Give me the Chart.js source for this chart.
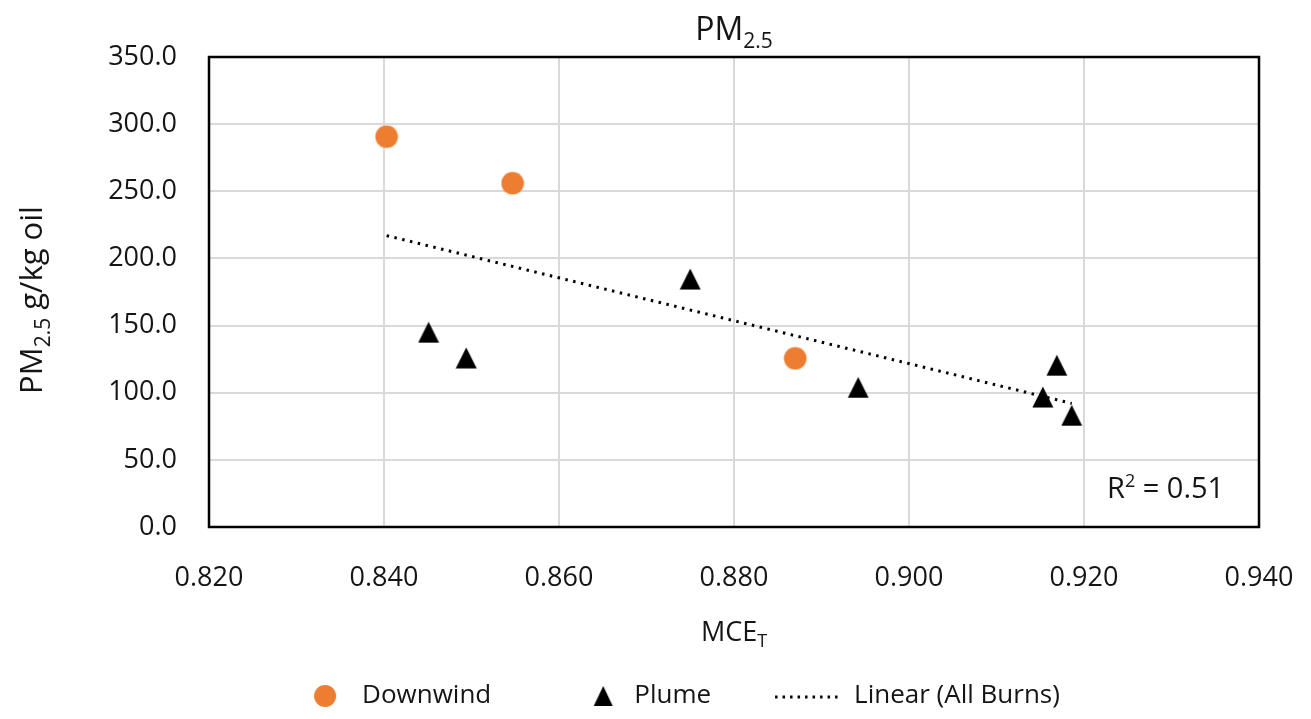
<!DOCTYPE html>
<html>
<head>
<meta charset="utf-8">
<title>PM2.5 vs MCE</title>
<script src="https://cdn.jsdelivr.net/npm/chart.js@4.4.0/dist/chart.umd.min.js"></script>
<style>
    html, body { margin: 0; padding: 0; background: #fff; }
    #wrap { width: 1311px; height: 719px; }
</style>
</head>
<body>
<div id="wrap"><canvas id="pmChart" width="1311" height="719"></canvas></div>
<script>
// Downwind samples (orange circles)
const downwindMce = [0.8403, 0.8547, 0.8870];
const downwindPm = [290.7, 256.0, 125.6];

// Plume samples (black triangles)
const plumeMce = [0.8451, 0.8494, 0.8750, 0.8942, 0.9153, 0.9169, 0.9186];
const plumePm = [145.0, 125.9, 184.6, 103.9, 96.8, 120.4, 83.1];

// Linear trend (All Burns), end points
const trendMce = [0.8403, 0.9186];
const trendPm = [217.0, 92.0];

const seriesNames = ['Downwind', 'Plume', 'Linear (All Burns)'];
const rSquaredText = ' = 0.51';

const FONT = "'Open Sans', sans-serif";
const TEXT = '#151515';

function toPoints(xs, ys) {
    return xs.map((x, i) => ({ x: x, y: ys[i] }));
}

function makeIcon(w, h, draw) {
    const c = document.createElement('canvas');
    c.width = w;
    c.height = h;
    draw(c.getContext('2d'));
    return c;
}

function drawCircle(ctx, cx, cy, r) {
    ctx.fillStyle = '#ED7D31';
    ctx.beginPath();
    ctx.arc(cx, cy, r, 0, Math.PI * 2);
    ctx.fill();
}

function drawTriangle(ctx, cx, cy, w, h) {
    ctx.fillStyle = '#000';
    ctx.beginPath();
    ctx.moveTo(cx, cy - h / 2);
    ctx.lineTo(cx + w / 2, cy + h / 2);
    ctx.lineTo(cx - w / 2, cy + h / 2);
    ctx.closePath();
    ctx.fill();
}

// markers on the plot
const circleMarker = makeIcon(24, 24, ctx => drawCircle(ctx, 12, 12, 11.3));
const triangleMarker = makeIcon(22, 22, ctx => drawTriangle(ctx, 11, 11, 21, 21));

// legend icons, all the same width so the text lines up after them
const LEG_W = 90, LEG_H = 26;
const legendIcons = [
    makeIcon(LEG_W, LEG_H, ctx => drawCircle(ctx, 66, 13, 11)),
    makeIcon(LEG_W, LEG_H, ctx => drawTriangle(ctx, 72, 13, 19, 20)),
    makeIcon(LEG_W, LEG_H, ctx => {
        ctx.strokeStyle = '#000';
        ctx.lineWidth = 3;
        ctx.setLineDash([2.5, 5]);
        ctx.beginPath();
        ctx.moveTo(24, 14);
        ctx.lineTo(89, 14);
        ctx.stroke();
    })
];

// draws a run of [text, size, baselineShift] pieces starting at x
function drawRuns(ctx, runs, x, y) {
    runs.forEach(r => {
        ctx.font = r[1] + 'px ' + FONT;
        ctx.fillText(r[0], x, y + r[2]);
        x += ctx.measureText(r[0]).width;
    });
}

function runsWidth(ctx, runs) {
    let w = 0;
    runs.forEach(r => {
        ctx.font = r[1] + 'px ' + FONT;
        w += ctx.measureText(r[0]).width;
    });
    return w;
}

const decorPlugin = {
    id: 'decor',
    beforeDatasetsDraw(chart) {
        const { ctx, chartArea: a } = chart;
        ctx.save();
        ctx.strokeStyle = '#000';
        ctx.lineWidth = 2.5;
        ctx.strokeRect(a.left, a.top, a.right - a.left, a.bottom - a.top);
        ctx.restore();
    },
    afterDraw(chart) {
        const { ctx, chartArea: a } = chart;
        const midX = (a.left + a.right) / 2;
        ctx.save();
        ctx.fillStyle = TEXT;
        ctx.textBaseline = 'alphabetic';
        ctx.textAlign = 'left';

        // title
        const title = [['PM', 32, 0], ['2.5', 21, 8]];
        drawRuns(ctx, title, midX - runsWidth(ctx, title) / 2, 40);

        // x axis title
        const xTitle = [['MCE', 27, 0], ['T', 18, 6]];
        drawRuns(ctx, xTitle, midX - runsWidth(ctx, xTitle) / 2, 641);

        // y axis title
        const yTitle = [['PM', 31, 0], ['2.5', 21, 8], [' g/kg oil', 31, 0]];
        ctx.translate(42, (a.top + a.bottom) / 2 + 8);
        ctx.rotate(-Math.PI / 2);
        drawRuns(ctx, yTitle, -runsWidth(ctx, yTitle) / 2, 0);
        ctx.setTransform(1, 0, 0, 1, 0, 0);

        // R squared
        drawRuns(ctx, [['R', 29, 0], ['2', 18, -11], [rSquaredText, 29, 0]], 1107, 498);
        ctx.restore();
    }
};

const ctx = document.getElementById('pmChart').getContext('2d');

new Chart(ctx, {
    type: 'scatter',
    data: {
        datasets: [{
            label: seriesNames[0],
            data: toPoints(downwindMce, downwindPm),
            pointStyle: circleMarker,
            pointRadius: 12,
            backgroundColor: '#ED7D31',
            borderColor: '#ED7D31'
        }, {
            label: seriesNames[1],
            data: toPoints(plumeMce, plumePm),
            pointStyle: triangleMarker,
            pointRadius: 11,
            backgroundColor: '#000',
            borderColor: '#000'
        }, {
            label: seriesNames[2],
            type: 'line',
            data: toPoints(trendMce, trendPm),
            showLine: true,
            borderColor: '#000',
            borderWidth: 3,
            borderDash: [2.5, 5.5],
            pointRadius: 0,
            fill: false
        }]
    },
    options: {
        responsive: false,
        animation: false,
        layout: {
            padding: { left: 60, right: 52, top: 57, bottom: 0 }
        },
        scales: {
            x: {
                type: 'linear',
                min: 0.82,
                max: 0.94,
                afterFit: function (scale) {
                    scale.height = 116;
                    scale.paddingLeft = 0;
                    scale.paddingRight = 0;
                },
                grid: { color: '#d9d9d9', lineWidth: 2, drawTicks: false },
                border: { display: false },
                ticks: {
                    stepSize: 0.02,
                    padding: 35,
                    color: TEXT,
                    font: { family: FONT, size: 27 },
                    callback: function (value) { return value.toFixed(3); }
                }
            },
            y: {
                min: 0,
                max: 350,
                afterFit: function (scale) {
                    scale.width = 149;
                    scale.paddingTop = 0;
                    scale.paddingBottom = 0;
                },
                grid: { color: '#d9d9d9', lineWidth: 2, drawTicks: false },
                border: { display: false },
                ticks: {
                    stepSize: 50,
                    padding: 32,
                    color: TEXT,
                    font: { family: FONT, size: 27 },
                    callback: function (value) { return value.toFixed(1); }
                }
            }
        },
        plugins: {
            title: { display: false },
            tooltip: { enabled: false },
            legend: {
                position: 'bottom',
                labels: {
                    usePointStyle: true,
                    pointStyleWidth: LEG_W,
                    padding: 40,
                    color: TEXT,
                    font: { family: FONT, size: 26 },
                    generateLabels: function (chart) {
                        const items = Chart.defaults.plugins.legend.labels.generateLabels(chart);
                        items.forEach((item, i) => { item.pointStyle = legendIcons[i]; });
                        return items;
                    }
                }
            }
        }
    },
    plugins: [decorPlugin]
});
</script>
</body>
</html>
